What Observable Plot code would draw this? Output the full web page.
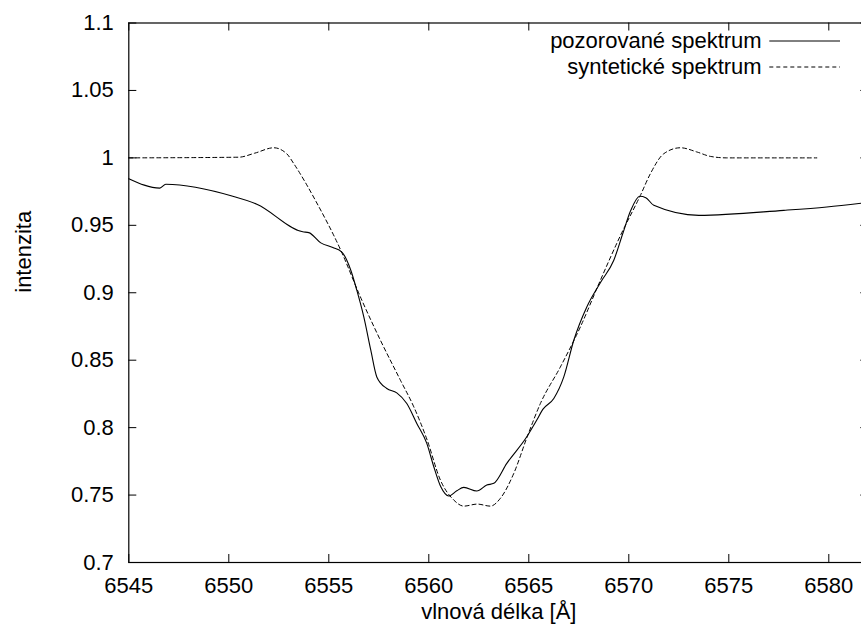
<!DOCTYPE html>
<html>
<head>
<meta charset="utf-8">
<script src="https://cdn.jsdelivr.net/npm/d3@7"></script>
<script src="https://cdn.jsdelivr.net/npm/@observablehq/plot@0.6"></script>
<style>
  html, body { margin: 0; padding: 0; background: #fff; }
  #chart { width: 861px; height: 632px; overflow: hidden; }
</style>
</head>
<body>
<div id="chart"></div>
<script>
// ---- data ----
const obsW = [6545, 6546.55, 6546.85, 6550.2, 6551.4, 6553.7, 6554.0, 6554.6, 6555.2, 6555.65, 6556.1, 6556.4, 6556.75, 6557.1, 6557.4, 6557.9, 6558.4, 6558.9, 6559.4, 6559.9, 6560.25, 6560.6, 6561.0, 6561.4, 6561.75, 6562.4, 6562.9, 6563.25, 6563.9, 6564.9, 6565.4, 6565.7, 6566.25, 6566.75, 6567.25, 6567.9, 6568.6, 6569.25, 6569.7, 6570.1, 6570.55, 6570.85, 6571.25, 6573.5, 6577.75, 6579.9, 6582];
const obsI = [0.9846, 0.9776, 0.9804, 0.9715, 0.9656, 0.9452, 0.9446, 0.937, 0.9335, 0.9302, 0.9167, 0.9019, 0.8821, 0.8574, 0.8376, 0.829, 0.8258, 0.8179, 0.8031, 0.7883, 0.771, 0.7561, 0.7493, 0.7532, 0.7557, 0.753, 0.7574, 0.7587, 0.7735, 0.7932, 0.8056, 0.8135, 0.8216, 0.8376, 0.8648, 0.8895, 0.908, 0.9241, 0.9439, 0.9611, 0.9715, 0.9705, 0.9648, 0.9574, 0.9611, 0.9636, 0.967];

const synW = [6545, 6550.5, 6551.3, 6552.25, 6552.9, 6553.25, 6553.8, 6554.33, 6555.6, 6556.58, 6557.58, 6558.58, 6559.25, 6559.92, 6560.58, 6561.25, 6561.75, 6562.42, 6563.08, 6563.58, 6564.25, 6564.92, 6565.58, 6566.58, 6567.58, 6568.58, 6569.6, 6570.58, 6571.08, 6571.75, 6572.58, 6573.42, 6574.08, 6574.9, 6579.4];
const synI = [1.0, 1.0005, 1.0035, 1.0075, 1.003, 0.9957, 0.9825, 0.9685, 0.9315, 0.8969, 0.8648, 0.8352, 0.8154, 0.7907, 0.7611, 0.7463, 0.7418, 0.7433, 0.7418, 0.7476, 0.7661, 0.7932, 0.8179, 0.845, 0.8747, 0.9093, 0.943, 0.9722, 0.9883, 1.0031, 1.0075, 1.0043, 1.0011, 1.0, 1.0];

const xTicks = [6545, 6550, 6555, 6560, 6565, 6570, 6575, 6580];
const yTicks = [0.7, 0.75, 0.8, 0.85, 0.9, 0.95, 1, 1.05, 1.1];
const seriesNames = ["pozorované spektrum", "syntetické spektrum"];
const xLabel = "vlnová délka [Å]";
const yLabel = "intenzita";

// ---- layout ----
const W = 861, H = 632;
const mL = 128.3, mT = 22.5, mB = 70, mR = -7.3;
const plotW = W - mL - mR, plotH = H - mT - mB;
const tick = 8;
const FONT = "'Liberation Sans', Arial, Helvetica, sans-serif";
const FS = 22;

const obs = obsW.map((w, i) => ({w, v: obsI[i]}));
const syn = synW.map((w, i) => ({w, v: synI[i]}));

const chart = Plot.plot({
  width: W, height: H,
  marginLeft: mL, marginRight: mR, marginTop: mT, marginBottom: mB,
  style: {fontFamily: FONT, fontSize: FS + "px", background: "#fff", color: "#000", overflow: "hidden"},
  x: {domain: [6545, 6582]},
  y: {domain: [0.7, 1.1]},
  marks: [
    // tick marks pointing inward on all four sides
    Plot.ruleX(xTicks, {x: d => d, insetTop: plotH - tick, stroke: "#000", strokeWidth: 1}),
    Plot.ruleX(xTicks, {x: d => d, insetBottom: plotH - tick, stroke: "#000", strokeWidth: 1}),
    Plot.ruleY(yTicks, {y: d => d, insetRight: plotW - tick, stroke: "#000", strokeWidth: 1}),
    Plot.ruleY(yTicks, {y: d => d, insetLeft: plotW - tick, stroke: "#000", strokeWidth: 1}),
    Plot.axisX({ticks: xTicks, tickSize: 0, tickPadding: 15, tickFormat: d => String(d), label: null, fontSize: FS, fill: "#000"}),
    Plot.axisY({ticks: yTicks, tickSize: 0, tickPadding: 15, tickFormat: d => String(d), label: null, fontSize: FS, fill: "#000"}),
    Plot.line(syn, {x: "w", y: "v", stroke: "#000", strokeWidth: 1, strokeDasharray: "4,3", curve: "monotone-x"}),
    Plot.line(obs, {x: "w", y: "v", stroke: "#000", strokeWidth: 1.1, curve: "monotone-x"}),
    Plot.frame({stroke: "#000", strokeWidth: 1.2}),
    Plot.text([xLabel], {frameAnchor: "bottom", dy: 56.5, fontSize: FS, fill: "#000"}),
    Plot.text([yLabel], {frameAnchor: "left", rotate: -90, dx: 23 - mL, fontSize: FS, fill: "#000"})
  ]
});
document.getElementById("chart").appendChild(chart);

// ---- legend (key inside the plot, top right, gnuplot style) ----
const svg = d3.select(chart);
const lg = svg.append("g").attr("font-family", FONT).attr("font-size", FS);
const rows = [
  {name: seriesNames[0], dash: null, y: 41},
  {name: seriesNames[1], dash: "4,3", y: 67}
];
rows.forEach(r => {
  lg.append("text").attr("x", 761.7).attr("y", r.y).attr("dy", "0.32em")
    .attr("text-anchor", "end").attr("fill", "#000").text(r.name);
  const ln = lg.append("line").attr("x1", 769.3).attr("x2", 840).attr("y1", r.y).attr("y2", r.y)
    .attr("stroke", "#000").attr("stroke-width", 1);
  if (r.dash) ln.attr("stroke-dasharray", r.dash);
});
</script>
</body>
</html>
